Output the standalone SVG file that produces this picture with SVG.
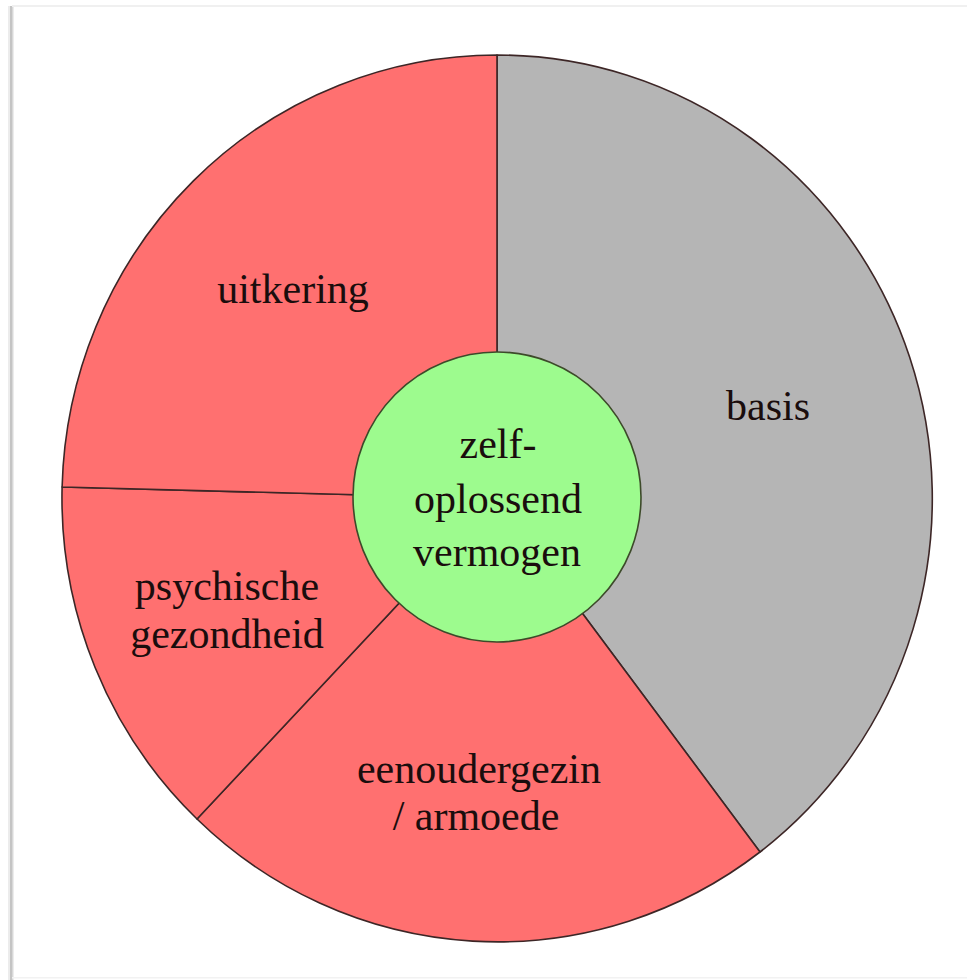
<svg xmlns="http://www.w3.org/2000/svg" width="967" height="980" viewBox="0 0 967 980">
<style>
.slice{stroke:#3d2626;stroke-width:1.6;stroke-linejoin:round}
.red{fill:#ff7070}
.gray{fill:#b5b5b5}
.lbl{font-family:"Liberation Serif","Times New Roman",serif;font-size:42px;fill:#1a0d0d;text-anchor:middle}
</style>
<rect x="0" y="0" width="967" height="980" fill="#ffffff"/>
<g id="frame">
<rect x="8" y="6" width="6" height="974" fill="#ececec"/>
<rect x="10" y="6" width="2.5" height="974" fill="#c4c4c4"/>
<rect x="12" y="5" width="955" height="2" fill="#f0f0f0"/>
<rect x="12" y="977" width="955" height="1.5" fill="#f2f2f2"/>
</g>
<g id="slice-basis">
<path class="slice gray" d="M497,498.5 L497,55 A435,443.5 0 0 1 760,852 Z"/>
<text class="lbl" x="768" y="420">basis</text>
</g>
<g id="slice-eenoudergezin">
<path class="slice red" d="M497,498.5 L760,852 A435,443.5 0 0 1 197,819 Z"/>
<text class="lbl" x="479" y="783">eenoudergezin</text>
<text class="lbl" x="476" y="830">/ armoede</text>
</g>
<g id="slice-psychische">
<path class="slice red" d="M497,498.5 L197,819 A435,443.5 0 0 1 62.1,487 Z"/>
<text class="lbl" x="227" y="600">psychische</text>
<text class="lbl" x="227" y="648">gezondheid</text>
</g>
<g id="slice-uitkering">
<path class="slice red" d="M497,498.5 L62.1,487 A435,443.5 0 0 1 497,55 Z"/>
<text class="lbl" x="293" y="303">uitkering</text>
</g>
<g id="center">
<ellipse cx="497" cy="497" rx="144" ry="145" fill="#9dfb8e" stroke="#3d4a2a" stroke-width="1.6"/>
<text class="lbl" x="498" y="458">zelf-</text>
<text class="lbl" x="498" y="513">oplossend</text>
<text class="lbl" x="497" y="566">vermogen</text>
</g>
</svg>
